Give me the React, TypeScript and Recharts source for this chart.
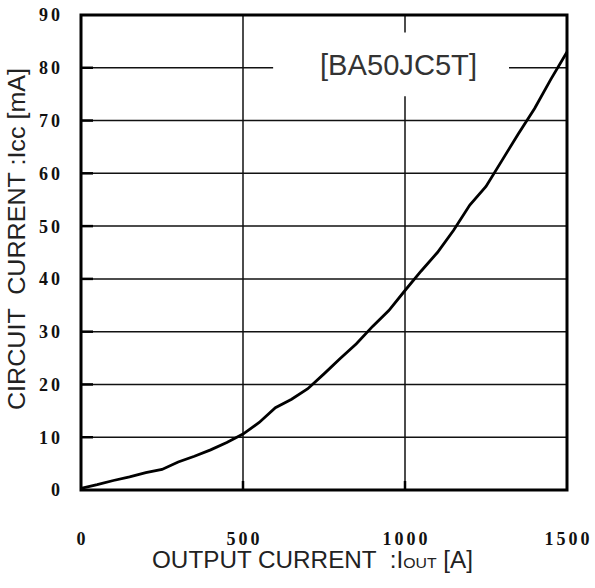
import React from "react";
import { LineChart, Line, XAxis, YAxis, CartesianGrid, ReferenceArea } from "recharts";

// circuit current vs output current
const outputCurrent = [
  0, 50, 100, 150, 200, 250, 300, 350, 400, 450, 500, 550, 600, 650, 700, 750,
  800, 850, 900, 950, 1000, 1050, 1100, 1150, 1200, 1250, 1300, 1350, 1400, 1450, 1500,
];
const circuitCurrent = [
  0.3, 1.0, 1.8, 2.5, 3.3, 3.9, 5.3, 6.4, 7.6, 9.0, 10.6, 12.8, 15.6, 17.2, 19.2, 22.0,
  24.9, 27.7, 31.0, 34.0, 37.8, 41.5, 45.0, 49.2, 54.0, 57.5, 62.5, 67.5, 72.3, 77.8, 83.0,
];
const xTicks = [0, 500, 1000, 1500];
const yTicks = [0, 10, 20, 30, 40, 50, 60, 70, 80, 90];
const partName = "[BA50JC5T]";

const W = 595;
const H = 588;
const LEFT = 81;
const TOP = 15;
const RIGHT = 567;
const BOTTOM = 490;

const data = outputCurrent.map((i, k) => ({ i, icc: circuitCurrent[k] }));

const digitFont = {
  fontFamily: "'Liberation Serif', serif",
  fontWeight: 700,
  fontSize: 18,
  letterSpacing: 3,
  fill: "#111",
};

function YTick(props: any) {
  const { x, y, payload } = props;
  return (
    <g>
      {payload.value > 0 && payload.value < 90 && (
        <line x1={LEFT} x2={LEFT + 12} y1={y} y2={y} stroke="#000" strokeWidth={2.5} />
      )}
      <text x={x} y={y} dy="0.36em" textAnchor="end" {...digitFont}>
        {payload.value}
      </text>
    </g>
  );
}

function XTick(props: any) {
  const { x, y, payload } = props;
  return (
    <g>
      {payload.value > 0 && payload.value < 1500 && (
        <line x1={x} x2={x} y1={BOTTOM} y2={BOTTOM - 9} stroke="#000" strokeWidth={2.5} />
      )}
      <text x={x + 1.5} y={y} dy="0.71em" textAnchor="middle" {...digitFont}>
        {payload.value}
      </text>
    </g>
  );
}

function XTitle() {
  return (
    <text
      x={152}
      y={568}
      fontFamily="'Liberation Sans', Arial, sans-serif"
      fontSize={23}
      fill="#222"
      textLength={321}
      lengthAdjust="spacingAndGlyphs"
      style={{ whiteSpace: "pre" }}
    >
      OUTPUT CURRENT  :I<tspan fontSize={15}>OUT</tspan> [A]
    </text>
  );
}

function YTitle() {
  return (
    <text
      x={25}
      y={239}
      transform="rotate(-90 25 239)"
      textAnchor="middle"
      fontFamily="'Liberation Sans', Arial, sans-serif"
      fontSize={23}
      fill="#222"
      textLength={342}
      lengthAdjust="spacingAndGlyphs"
      style={{ whiteSpace: "pre" }}
    >
      CIRCUIT  CURRENT :Icc [mA]
    </text>
  );
}

function Tag() {
  return (
    <text
      x={320}
      y={75}
      fontFamily="'Liberation Sans', Arial, sans-serif"
      fontSize={29}
      fill="#333"
      textLength={157}
      lengthAdjust="spacingAndGlyphs"
    >
      {partName}
    </text>
  );
}

export default function App() {
  return (
    <div style={{ position: "absolute", left: 0, top: 0, width: W, height: H, background: "#fff" }}>
      <LineChart
        width={W}
        height={H}
        data={data}
        margin={{ top: TOP, right: W - RIGHT, left: 0, bottom: 0 }}
      >
        <CartesianGrid stroke="#111" strokeWidth={1.5} />
        <XAxis
          dataKey="i"
          type="number"
          domain={[0, 1500]}
          ticks={xTicks}
          height={H - BOTTOM}
          axisLine={false}
          tickLine={false}
          tickSize={0}
          tickMargin={42}
          tick={<XTick />}
          interval={0}
          label={<XTitle />}
        />
        <YAxis
          type="number"
          domain={[0, 90]}
          ticks={yTicks}
          width={LEFT}
          axisLine={false}
          tickLine={false}
          tickSize={0}
          tickMargin={18}
          tick={<YTick />}
          interval={0}
          label={<YTitle />}
        />
        <ReferenceArea x1={593} x2={1321} y1={74.6} y2={86.7} fill="#fff" fillOpacity={1} stroke="none" label={<Tag />} />
        <Line
          type="linear"
          dataKey="icc"
          stroke="#000"
          strokeWidth={2.8}
          dot={false}
          isAnimationActive={false}
        />
        <ReferenceArea x1={0} x2={1500} y1={0} y2={90} fill="none" stroke="#000" strokeWidth={3} />
      </LineChart>
    </div>
  );
}
